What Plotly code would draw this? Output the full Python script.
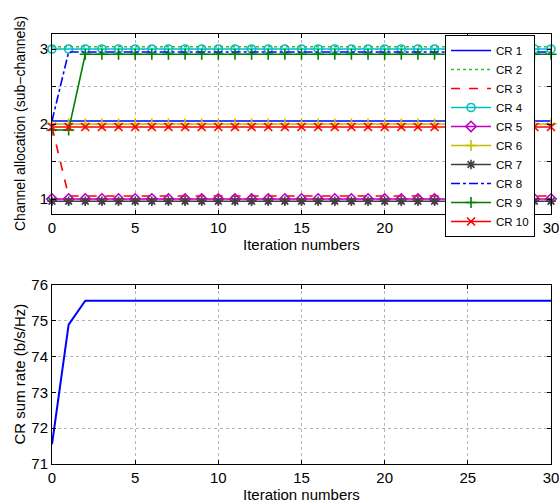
import plotly.graph_objects as go

iterations = list(range(0, 31))
n = len(iterations)

cr_names = ["CR 1", "CR 2", "CR 3", "CR 4", "CR 5", "CR 6", "CR 7", "CR 8", "CR 9", "CR 10"]
cr1 = [2.04] * n
cr2 = [3.03] * n
cr3 = [1.96] + [1.04] * (n - 1)
cr4 = [3.0] * n
cr5 = [1.0] * n
cr6 = [2.0] * n
cr7 = [0.97] * n
cr8 = [2.04] + [2.96] * (n - 1)
cr9 = [1.92, 1.92] + [2.93] * (n - 2)
cr10 = [1.96] * n
cr_values = [cr1, cr2, cr3, cr4, cr5, cr6, cr7, cr8, cr9, cr10]

sum_rate = [71.55, 74.89] + [75.56] * (n - 2)

x_ticks = [0, 5, 10, 15, 20, 25, 30]
top_ticks = [1, 1.5, 2, 2.5, 3]
top_ticktext = ["1", "", "2", "", "3"]
bottom_ticks = [71, 72, 73, 74, 75, 76]

styles = [
    dict(color="#0000FF", dash="solid", symbol=None),
    dict(color="#33BB33", dash="dot", symbol=None),
    dict(color="#FF0000", dash="dash", symbol=None),
    dict(color="#00BFBF", dash="solid", symbol="circle-open"),
    dict(color="#BF00BF", dash="solid", symbol="diamond-open"),
    dict(color="#BFBF00", dash="solid", symbol="cross-thin-open"),
    dict(color="#404040", dash="solid", symbol="asterisk-open"),
    dict(color="#0000FF", dash="dashdot", symbol=None),
    dict(color="#008000", dash="solid", symbol="cross-thin-open"),
    dict(color="#FF0000", dash="solid", symbol="x-thin-open"),
]

FONT = "Liberation Sans, Arial, Helvetica, sans-serif"
fig = go.Figure()

for name, vals, st in zip(cr_names, cr_values, styles):
    kw = dict(x=iterations, y=vals, name=name, xaxis="x", yaxis="y", cliponaxis=False,
              line=dict(color=st["color"], dash=st["dash"], width=1.6))
    if st["symbol"]:
        kw["mode"] = "lines+markers"
        kw["marker"] = dict(symbol=st["symbol"], size=8,
                            color=st["color"], line=dict(color=st["color"], width=1.6))
    else:
        kw["mode"] = "lines"
    fig.add_trace(go.Scatter(**kw))

fig.add_trace(go.Scatter(x=iterations, y=sum_rate, mode="lines", showlegend=False,
                         line=dict(color="#0000FF", width=2), xaxis="x2", yaxis="y2"))

axis_common = dict(
    showline=True, linecolor="black", linewidth=1, mirror="ticks",
    ticks="inside", ticklen=4, tickcolor="black", automargin=False,
    ticklabeloverflow="allow",
    showgrid=True, gridcolor="#b4b4b4", griddash="dot", gridwidth=1,
    zeroline=False, tickfont=dict(size=15, color="black", family=FONT),
)

fig.update_layout(
    width=559, height=504,
    margin=dict(l=52, r=8, t=34, b=40, autoexpand=False),
    paper_bgcolor="white", plot_bgcolor="white",
    font=dict(family=FONT, size=15, color="black"),
    xaxis=dict(domain=[0, 1], anchor="y", range=[0, 30], tickvals=x_ticks, **axis_common),
    yaxis=dict(domain=[0.5814, 1], anchor="x", range=[0.8, 3.2], tickvals=top_ticks,
               ticktext=top_ticktext, **axis_common),
    xaxis2=dict(domain=[0, 1], anchor="y2", range=[0, 30], tickvals=x_ticks, **axis_common),
    yaxis2=dict(domain=[0, 0.4163], anchor="x2", range=[71, 76], tickvals=bottom_ticks, **axis_common),
    legend=dict(x=0.7876, y=0.9977, xanchor="left", yanchor="top",
                bgcolor="white", bordercolor="black", borderwidth=1,
                font=dict(size=11.5, family=FONT), tracegroupgap=0, itemwidth=40),
    showlegend=True,
    annotations=[
        dict(text="Iteration numbers", x=0.5, y=0.5116, xref="paper", yref="paper",
             showarrow=False, xanchor="center", yanchor="middle", font=dict(size=15)),
        dict(text="Iteration numbers", x=0.5, y=-0.0698, xref="paper", yref="paper",
             showarrow=False, xanchor="center", yanchor="middle", font=dict(size=15)),
        dict(text="Channel allocation (sub−channels)", x=-0.0641, y=0.7907, xref="paper", yref="paper",
             showarrow=False, xanchor="center", yanchor="middle", textangle=-90, font=dict(size=14)),
        dict(text="CR sum rate (b/s/Hz)", x=-0.0641, y=0.2081, xref="paper", yref="paper",
             showarrow=False, xanchor="center", yanchor="middle", textangle=-90, font=dict(size=15)),
    ],
)

fig.write_html("out.html", config={"displayModeBar": False},
               post_script="document.body.style.margin='0';")
